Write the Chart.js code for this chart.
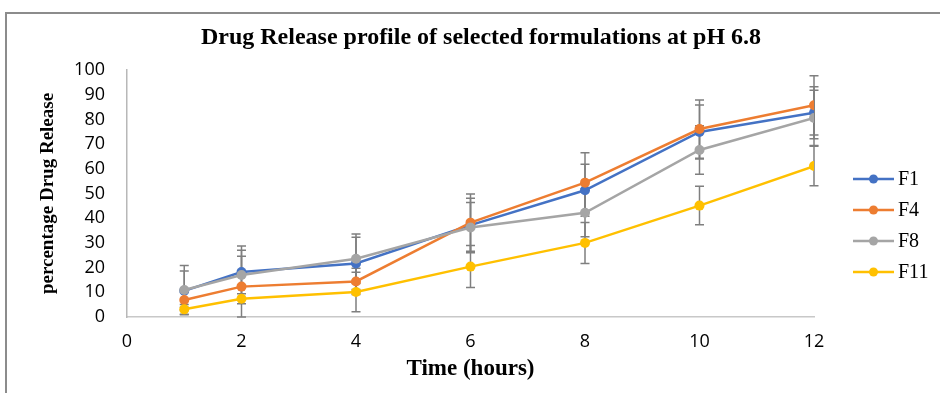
<!DOCTYPE html>
<html>
<head>
<meta charset="utf-8">
<script src="https://cdn.jsdelivr.net/npm/chart.js@4/dist/chart.umd.min.js"></script>
<style>
  html, body { margin: 0; padding: 0; background: #fff; }
  #wrap { position: relative; width: 940px; height: 393px; overflow: hidden; }
  #frame { position: absolute; left: 5px; top: 12px; width: 960px; height: 420px; border: 2px solid #8c8c8c; box-sizing: border-box; pointer-events: none; }
  canvas { position: absolute; left: 0; top: 0; }
</style>
</head>
<body>
<div id="wrap">
  <canvas id="c" width="940" height="393"></canvas>
  <div id="frame"></div>
</div>
<script>
const chartTitle = "Drug Release profile of selected formulations at pH 6.8";
const xTitle = "Time (hours)";
const yTitle = "percentage Drug Release";
const timeHours = [1, 2, 4, 6, 8, 10, 12];
const seriesNames = ["F1", "F4", "F8", "F11"];
const seriesColors = ["#4472C4", "#ED7D31", "#A5A5A5", "#FFC000"];
const f1Values = [10.6, 18.2, 21.7, 37.2, 51.3, 74.9, 82.7];
const f4Values = [6.9, 12.3, 14.4, 38.2, 54.4, 76.1, 85.7];
const f8Values = [10.9, 17.0, 23.6, 36.2, 42.2, 67.6, 80.6];
const f11Values = [3.1, 7.4, 10.1, 20.4, 30.0, 45.1, 61.1];
const f1Errors = [8, 10.5, 10.6, 10.9, 10.5, 10.9, 10.5];
const f4Errors = [3, 12.3, 5.3, 11.6, 12.1, 11.8, 12];
const f8Errors = [10, 10, 10, 10.2, 9.7, 9.8, 11.2];
const f11Errors = [2, 2, 8, 8.5, 8.3, 7.8, 8];

const allValues = [f1Values, f4Values, f8Values, f11Values];
const allErrors = [f1Errors, f4Errors, f8Errors, f11Errors];

const datasets = seriesNames.map((name, i) => ({
  label: name,
  data: timeHours.map((t, j) => ({ x: t, y: allValues[i][j] })),
  errors: allErrors[i],
  borderColor: seriesColors[i],
  backgroundColor: seriesColors[i],
  pointBackgroundColor: seriesColors[i],
  pointBorderColor: seriesColors[i],
  borderWidth: 2.5,
  pointRadius: 5,
  pointBorderWidth: 0,
  tension: 0,
  order: seriesNames.length - i
}));

const errorBarPlugin = {
  id: 'errorBars',
  beforeDatasetsDraw(chart) {
    const ctx = chart.ctx;
    const xs = chart.scales.x, ys = chart.scales.y;
    ctx.save();
    ctx.strokeStyle = '#7f7f7f';
    ctx.lineWidth = 1.5;
    chart.data.datasets.forEach(ds => {
      ds.data.forEach((p, j) => {
        const e = ds.errors[j];
        const px = xs.getPixelForValue(p.x);
        const top = ys.getPixelForValue(Math.min(100, p.y + e));
        const bot = ys.getPixelForValue(Math.max(0, p.y - e));
        ctx.beginPath();
        ctx.moveTo(px, top); ctx.lineTo(px, bot);
        ctx.moveTo(px - 4.5, top); ctx.lineTo(px + 4.5, top);
        ctx.moveTo(px - 4.5, bot); ctx.lineTo(px + 4.5, bot);
        ctx.stroke();
      });
    });
    ctx.restore();
  }
};

const titleAndLegendPlugin = {
  id: 'titleAndLegend',
  afterDraw(chart) {
    const ctx = chart.ctx;
    ctx.save();
    // chart title
    ctx.fillStyle = '#000';
    ctx.font = 'bold 24px "Liberation Serif", serif';
    ctx.textAlign = 'center';
    ctx.textBaseline = 'middle';
    ctx.fillText(chartTitle, 481, 38);
    // legend
    const x0 = 853, x1 = 894, yStart = 179, step = 31;
    chart.data.datasets.forEach((ds, i) => {
      const y = yStart + i * step;
      ctx.strokeStyle = ds.borderColor;
      ctx.lineWidth = 2.5;
      ctx.beginPath(); ctx.moveTo(x0, y); ctx.lineTo(x1, y); ctx.stroke();
      ctx.fillStyle = ds.borderColor;
      ctx.beginPath(); ctx.arc((x0 + x1) / 2, y, 4.5, 0, Math.PI * 2); ctx.fill();
      ctx.fillStyle = '#000';
      ctx.font = '20px "Liberation Serif", serif';
      ctx.textBaseline = 'middle';
      ctx.textAlign = 'left';
      ctx.fillText(ds.label, x1 + 4, y + 1);
    });
    ctx.restore();
  }
};

new Chart(document.getElementById('c'), {
  type: 'line',
  data: { datasets },
  plugins: [errorBarPlugin, titleAndLegendPlugin],
  options: {
    responsive: false,
    animation: false,
    layout: { padding: { left: 0, right: 126, top: 70, bottom: 0 } },
    plugins: {
      legend: { display: false },
      tooltip: { enabled: false },
      title: { display: false }
    },
    scales: {
      x: {
        type: 'linear',
        min: 0, max: 12,
        ticks: { stepSize: 2, color: '#000', font: { family: '"Open Sans", sans-serif', size: 18 }, padding: 14 },
        grid: { display: false, drawTicks: false },
        border: { display: true, color: '#c8c8c8', width: 1.5 },
        title: { display: true, text: xTitle, color: '#000', font: { family: '"Liberation Serif", serif', size: 23, weight: 'bold' }, padding: { top: 0, bottom: 10 } },
        afterFit(s) { s.height = 76; }
      },
      y: {
        min: 0, max: 100,
        ticks: { stepSize: 10, color: '#000', font: { family: '"Open Sans", sans-serif', size: 18 }, padding: 22 },
        grid: { display: false, drawTicks: false },
        border: { display: true, color: '#b8b8b8', width: 1.5 },
        title: { display: true, text: yTitle, color: '#000', font: { family: '"Liberation Serif", serif', size: 19, weight: 'bold' }, padding: { top: 37, bottom: 0 } },
        afterFit(s) { s.width = 127; }
      }
    }
  }
});
</script>
</body>
</html>
